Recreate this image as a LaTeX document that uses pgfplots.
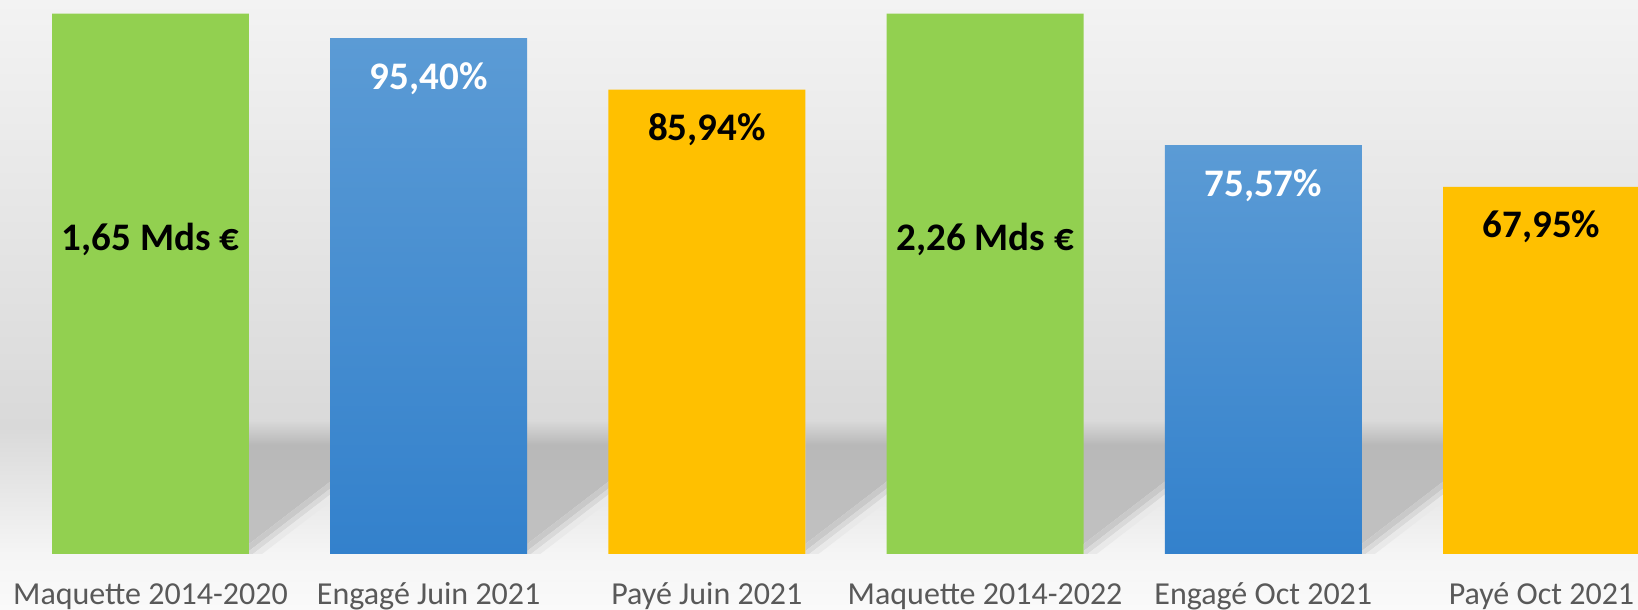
\documentclass[border=0pt]{standalone}
\usepackage{pgfplots}
\pgfplotsset{compat=1.18}
\usepackage{fontspec}
\setmainfont{Carlito}
\definecolor{cgreen}{HTML}{92D050}
\definecolor{cblueT}{HTML}{5B9BD5}
\definecolor{cblueB}{HTML}{3381CC}
\definecolor{cyellow}{HTML}{FFC000}
\definecolor{ctick}{HTML}{595959}
\definecolor{bg0}{HTML}{FAFAFA}
\definecolor{bg1}{HTML}{F5F5F5}
\definecolor{bg2}{HTML}{D9D9D9}
\definecolor{bg3}{HTML}{F3F3F3}
\definecolor{sh0}{HTML}{C2C2C2}
\definecolor{sh1}{HTML}{BDBDBD}
\definecolor{sh2}{HTML}{B8B8B8}
\definecolor{sh3}{HTML}{DADADA}
\definecolor{bd1}{HTML}{C9C9C9}
\definecolor{bd2}{HTML}{D9D9D9}
\definecolor{bd3}{HTML}{E9E9E9}
\pgfdeclareverticalshading{bgshade}{100bp}{color(0bp)=(bg0); color(25bp)=(bg0); color(29.6bp)=(bg1); color(40bp)=(bg2); color(75bp)=(bg3); color(100bp)=(bg3)}
\pgfdeclareverticalshading{shadowshade}{100bp}{color(0bp)=(sh0); color(25bp)=(sh0); color(45bp)=(sh1); color(65bp)=(sh2); color(75bp)=(sh3); color(100bp)=(sh3)}
\begin{document}
\begin{tikzpicture}
\useasboundingbox (0,0) rectangle (819pt,305pt);
\begin{scope}[x=0.5pt,y=0.5pt]
\shade[shading=bgshade] (0,0) rectangle (1638,610);
\clip (0,56) rectangle (1638,610);
\foreach \b in {249,527.2,805.4,1083.6,1361.8}{
  \shade[shading=shadowshade] (\b,190) -- (\b+95,190) -- (\b+95,139) -- (\b,66) -- cycle;
  \fill[bd1] (\b,66) -- (\b+95,139) -- (\b+95,132) -- (\b,59) -- cycle;
  \fill[bd2] (\b,59) -- (\b+95,132) -- (\b+95,126) -- (\b,53) -- cycle;
  \fill[bd3] (\b,53) -- (\b+95,126) -- (\b+95,119) -- (\b,46) -- cycle;
}
\end{scope}
\begin{axis}[
  at={(0,0)}, anchor=south west,
  scale only axis, width=819pt, height=305pt,
  xmin=-0.541, xmax=5.347, ymin=-10.363, ymax=102.517,
  axis line style={draw=none},
  major tick length=0pt,
  ytick=\empty,
  xtick={0,1,2,3,4,5},
  xticklabels={Maquette 2014-2020, Engagé Juin 2021, Payé Juin 2021, Maquette 2014-2022, Engagé Oct 2021, Payé Oct 2021},
  xticklabel style={anchor=base, yshift=2.5pt, text=ctick, font=\fontsize{16}{16}\selectfont},
  clip=true,
]
\addplot[ybar, bar width=0.708, bar shift=0pt, fill=cgreen, draw=none,
  nodes near coords, point meta=explicit symbolic,
  every node near coord/.append style={anchor=center, yshift=-113pt, text=black, font=\bfseries\fontsize{19.5}{19.5}\selectfont}]
  coordinates {(0,100) [1,65 Mds €] (3,100) [2,26 Mds €]};
\addplot[ybar, bar width=0.708, bar shift=0pt, top color=cblueT, bottom color=cblueB, draw=none,
  nodes near coords, point meta=explicit symbolic,
  every node near coord/.append style={anchor=center, yshift=-20pt, text=white, font=\bfseries\fontsize{19.5}{19.5}\selectfont}]
  coordinates {(1,95.40) [95,40\%]};
\addplot[ybar, bar width=0.708, bar shift=0pt, top color=cblueT, bottom color=cblueB, draw=none,
  nodes near coords, point meta=explicit symbolic,
  every node near coord/.append style={anchor=center, yshift=-20pt, text=white, font=\bfseries\fontsize{19.5}{19.5}\selectfont}]
  coordinates {(4,75.57) [75,57\%]};
\addplot[ybar, bar width=0.708, bar shift=0pt, fill=cyellow, draw=none,
  nodes near coords, point meta=explicit symbolic,
  every node near coord/.append style={anchor=center, yshift=-20pt, text=black, font=\bfseries\fontsize{19.5}{19.5}\selectfont}]
  coordinates {(2,85.94) [85,94\%] (5,67.95) [67,95\%]};
\end{axis}
\end{tikzpicture}
\end{document}
